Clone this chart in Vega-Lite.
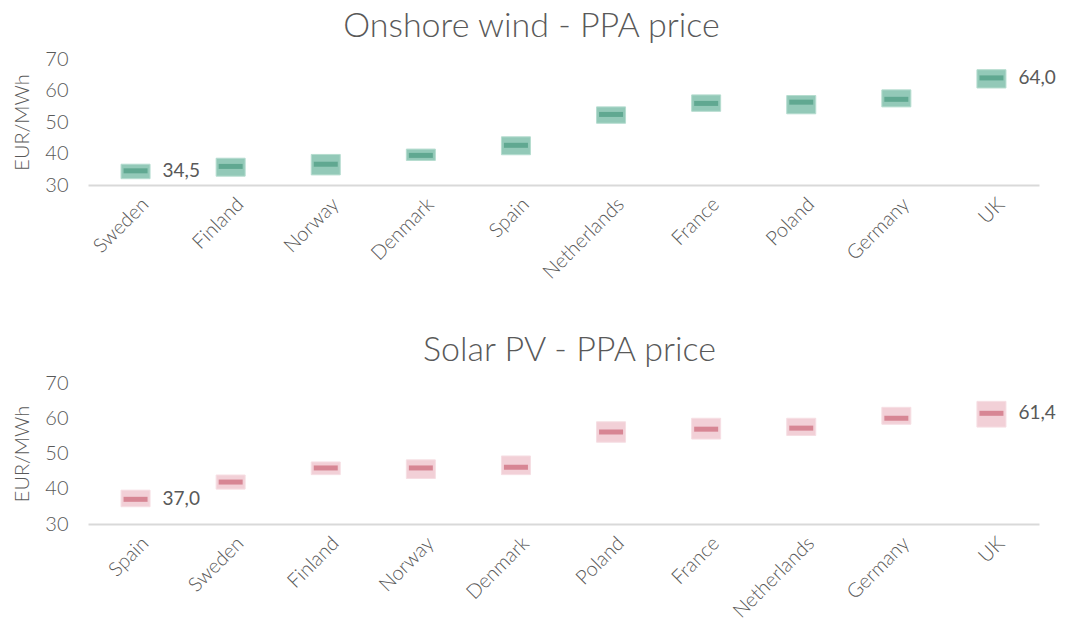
{
  "$schema": "https://vega.github.io/schema/vega-lite/v6.json",
  "background": "white",
  "padding": {"left": 12, "top": 10, "right": 5, "bottom": 5},
  "spacing": 51,
  "config": {
    "view": {"stroke": null},
    "font": "Lato",
    "axisX": {
      "labelAngle": -45, "labelAlign": "right", "labelBaseline": "middle",
      "labelFontSize": 20, "labelColor": "#595959", "labelFont": "Lato", "labelFontWeight": 300,
      "labelPadding": 16, "labelOffset": 10, "ticks": false, "grid": false,
      "domainColor": "#d9d9d9", "domainWidth": 2, "title": null
    },
    "axisY": {
      "labelFontSize": 20, "labelColor": "#595959", "labelFont": "Lato", "labelFontWeight": 300,
      "labelPadding": 20, "ticks": false, "grid": false, "domain": false,
      "titleFontSize": 20, "titleColor": "#595959", "titleFont": "Lato", "titleFontWeight": 300,
      "titlePadding": 12, "tickCount": 5
    }
  },
  "datasets": {
    "wind": [
      {"country": "Sweden", "value": 34.5, "low": 32.0, "high": 36.6, "label": "34,5"},
      {"country": "Finland", "value": 35.9, "low": 32.8, "high": 38.5, "label": ""},
      {"country": "Norway", "value": 36.6, "low": 33.2, "high": 39.7, "label": ""},
      {"country": "Denmark", "value": 39.4, "low": 37.8, "high": 41.4, "label": ""},
      {"country": "Spain", "value": 42.6, "low": 39.6, "high": 45.3, "label": ""},
      {"country": "Netherlands", "value": 52.4, "low": 49.6, "high": 54.8, "label": ""},
      {"country": "France", "value": 55.9, "low": 53.4, "high": 58.6, "label": ""},
      {"country": "Poland", "value": 56.3, "low": 52.6, "high": 58.4, "label": ""},
      {"country": "Germany", "value": 57.2, "low": 54.8, "high": 60.2, "label": ""},
      {"country": "UK", "value": 64.0, "low": 60.8, "high": 66.6, "label": "64,0"}
    ],
    "solar": [
      {"country": "Spain", "value": 37.0, "low": 34.9, "high": 39.6, "label": "37,0"},
      {"country": "Sweden", "value": 41.9, "low": 39.9, "high": 43.9, "label": ""},
      {"country": "Finland", "value": 45.9, "low": 44.0, "high": 47.6, "label": ""},
      {"country": "Norway", "value": 45.9, "low": 42.9, "high": 48.2, "label": ""},
      {"country": "Denmark", "value": 46.1, "low": 44.0, "high": 49.3, "label": ""},
      {"country": "Poland", "value": 56.1, "low": 53.2, "high": 59.0, "label": ""},
      {"country": "France", "value": 56.9, "low": 54.1, "high": 60.0, "label": ""},
      {"country": "Netherlands", "value": 57.2, "low": 55.1, "high": 60.0, "label": ""},
      {"country": "Germany", "value": 60.0, "low": 58.3, "high": 63.1, "label": ""},
      {"country": "UK", "value": 61.4, "low": 57.5, "high": 64.8, "label": "61,4"}
    ]
  },
  "vconcat": [
    {
      "data": {"name": "wind"},
      "width": 951, "height": 126,
      "title": {"text": "Onshore wind - PPA price", "fontSize": 34, "font": "Lato", "fontWeight": 300, "color": "#595959", "anchor": "middle", "frame": "group", "dx": -32, "offset": 5},
      "encoding": {
        "x": {"field": "country", "type": "nominal", "sort": null, "scale": {"paddingInner": 0, "paddingOuter": 0}}
      },
      "layer": [
        {
          "mark": {"type": "bar", "color": "#93c9b8", "size": 29, "stroke": "#b5dccf", "strokeWidth": 1},
          "encoding": {
            "y": {"field": "low", "type": "quantitative", "scale": {"domain": [30, 70], "zero": false, "nice": false}, "axis": {"title": "EUR/MWh", "values": [30, 40, 50, 60, 70]}},
            "y2": {"field": "high"}
          }
        },
        {
          "mark": {"type": "tick", "color": "#4a9a80", "thickness": 5, "size": 24},
          "encoding": {"y": {"field": "value", "type": "quantitative"}}
        },
        {
          "transform": [{"filter": "datum.label != ''"}],
          "mark": {"type": "text", "align": "left", "baseline": "middle", "dx": 27, "fontSize": 19, "font": "Lato", "color": "#595959"},
          "encoding": {"y": {"field": "value", "type": "quantitative"}, "text": {"field": "label"}}
        }
      ]
    },
    {
      "data": {"name": "solar"},
      "width": 951, "height": 141,
      "title": {"text": "Solar PV - PPA price", "fontSize": 34, "font": "Lato", "fontWeight": 300, "color": "#595959", "anchor": "middle", "frame": "group", "dx": 6, "offset": 5},
      "encoding": {
        "x": {"field": "country", "type": "nominal", "sort": null, "scale": {"paddingInner": 0, "paddingOuter": 0}}
      },
      "layer": [
        {
          "mark": {"type": "bar", "color": "#f2d0d7", "size": 29, "stroke": "#f6dee3", "strokeWidth": 1},
          "encoding": {
            "y": {"field": "low", "type": "quantitative", "scale": {"domain": [30, 70], "zero": false, "nice": false}, "axis": {"title": "EUR/MWh", "values": [30, 40, 50, 60, 70]}},
            "y2": {"field": "high"}
          }
        },
        {
          "mark": {"type": "tick", "color": "#cc6677", "thickness": 5, "size": 24},
          "encoding": {"y": {"field": "value", "type": "quantitative"}}
        },
        {
          "transform": [{"filter": "datum.label != ''"}],
          "mark": {"type": "text", "align": "left", "baseline": "middle", "dx": 27, "fontSize": 19, "font": "Lato", "color": "#595959"},
          "encoding": {"y": {"field": "value", "type": "quantitative"}, "text": {"field": "label"}}
        }
      ]
    }
  ]
}
